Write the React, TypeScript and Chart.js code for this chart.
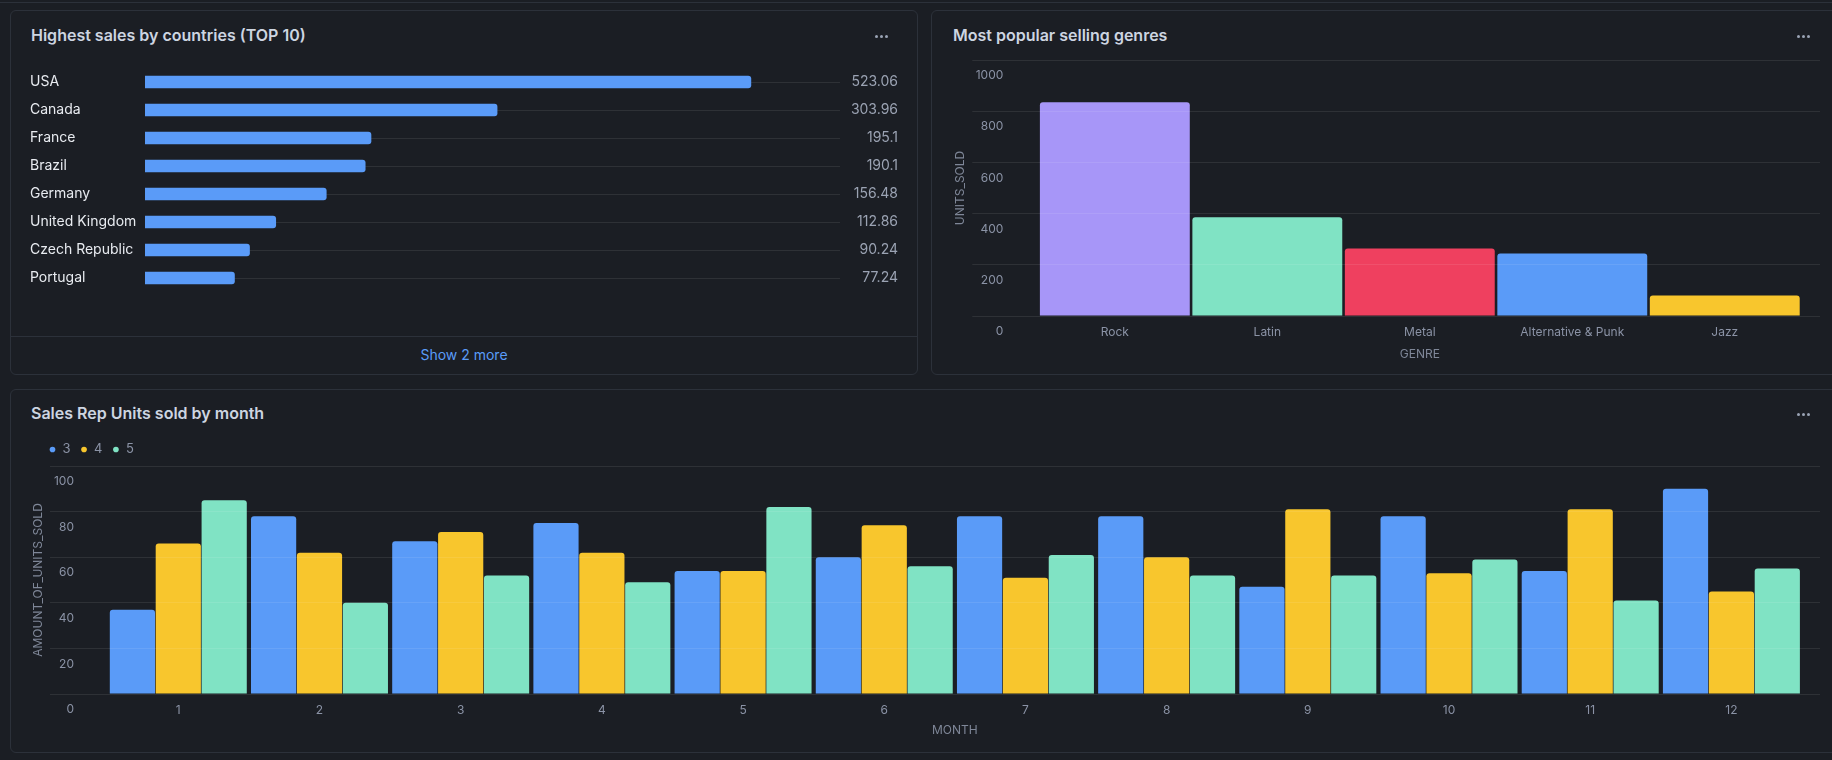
import React, { useEffect, useRef } from 'react';
import { Chart, registerables } from 'chart.js';

Chart.register(...registerables);

// ---------- data ----------
const countries = ['USA', 'Canada', 'France', 'Brazil', 'Germany', 'United Kingdom', 'Czech Republic', 'Portugal'];
const countrySales = [523.06, 303.96, 195.1, 190.1, 156.48, 112.86, 90.24, 77.24];

const genres = ['Rock', 'Latin', 'Metal', 'Alternative & Punk', 'Jazz'];
const genreUnits = [835, 386, 264, 244, 80];
const genreColors = ['#A796F8', '#80E3C4', '#EF405F', '#5A9BF8', '#F8C62D'];

const months = ['1', '2', '3', '4', '5', '6', '7', '8', '9', '10', '11', '12'];
const repNames = ['3', '4', '5'];
const rep3Units = [37, 78, 67, 75, 54, 60, 78, 78, 47, 78, 54, 90];
const rep4Units = [66, 62, 71, 62, 54, 74, 51, 60, 81, 53, 81, 45];
const rep5Units = [85, 40, 52, 49, 82, 56, 61, 52, 52, 59, 41, 55];
const repColors = ['#5A9BF8', '#F8C62D', '#80E3C4'];

// ---------- styles ----------
const FONT = 'Inter, "Noto Sans", sans-serif';
const BG = '#1b1e24';
const BORDER = '#2c313a';
const GRID = 'rgba(255,255,255,0.085)';
const TICK = '#8b93a6';
const AXTITLE = '#7f8798';
const BLUE = '#5A9BF8';

const legendShift = {
  id: 'legendShift',
  afterLayout(chart: any) {
    const l = chart.legend;
    if (l) {
      l.left += 12;
      l.right += 12;
    }
  },
};

const plainTick = (v: any) => String(v);

function Dots({ x, y }: { x: number; y: number }) {
  const d = { width: 3, height: 3, borderRadius: 2, background: '#9aa3b4', display: 'inline-block' } as React.CSSProperties;
  return (
    <div style={{ position: 'absolute', left: x, top: y - 1.5, display: 'flex', gap: 2 }}>
      <span style={d} />
      <span style={d} />
      <span style={d} />
    </div>
  );
}

export default function App() {
  const c1 = useRef<HTMLCanvasElement>(null);
  const c2 = useRef<HTMLCanvasElement>(null);
  const c3 = useRef<HTMLCanvasElement>(null);

  useEffect(() => {
    Chart.defaults.font.family = FONT;
    const charts: Chart[] = [];

    charts.push(
      new Chart(c1.current!, {
        type: 'bar',
        data: {
          labels: countries,
          datasets: [
            {
              data: countrySales,
              backgroundColor: BLUE,
              barThickness: 12,
              borderRadius: 3,
              yAxisID: 'y',
            },
          ],
        },
        options: {
          indexAxis: 'y',
          animation: false,
          responsive: false,
          layout: { padding: { top: 14, bottom: 14, left: 0, right: 0 } },
          plugins: { legend: { display: false }, tooltip: { enabled: false } },
          scales: {
            x: { display: false, min: 0, max: 600 },
            y: {
              position: 'left',
              grid: { color: GRID, offset: false, drawTicks: false },
              border: { display: false },
              ticks: { crossAlign: 'far', color: '#e8ebf0', font: { size: 14, family: FONT } },
              afterFit: (s: any) => {
                s.width = 115;
              },
            },
            yv: {
              type: 'category',
              position: 'right',
              labels: countrySales.map(String),
              offset: true,
              grid: { display: false, drawTicks: false },
              border: { display: false },
              ticks: { crossAlign: 'far', color: '#9ba3b3', font: { size: 14, family: FONT } },
              afterFit: (s: any) => {
                s.width = 58;
              },
            },
          },
        } as any,
      })
    );

    charts.push(
      new Chart(c2.current!, {
        type: 'bar',
        data: {
          labels: genres,
          datasets: [
            {
              data: genreUnits,
              backgroundColor: genreColors,
              categoryPercentage: 0.983,
              barPercentage: 1,
              borderRadius: 3,
              yAxisID: 'y',
            },
          ],
        },
        options: {
          animation: false,
          responsive: false,
          layout: { padding: { top: 12, bottom: 0, left: 0, right: 0 } },
          plugins: { legend: { display: false }, tooltip: { enabled: false } },
          scales: {
            x: {
              grid: { display: false, drawTicks: false },
              border: { display: false },
              ticks: { color: TICK, font: { size: 12, family: FONT }, padding: 9 },
              title: { display: true, text: 'GENRE', color: AXTITLE, font: { size: 12, family: FONT } },
              afterFit: (s: any) => {
                s.height = 50;
              },
            },
            y: {
              position: 'left',
              min: 0,
              max: 1000,
              ticks: {
                stepSize: 200,
                color: TICK,
                font: { size: 12, family: FONT },
                padding: -31,
                labelOffset: 15.5,
                callback: plainTick,
              },
              grid: { color: GRID, tickLength: 66.3, z: 1 },
              border: { display: false },
              title: { display: true, text: 'UNITS_SOLD', color: AXTITLE, font: { size: 12, family: FONT } },
              afterFit: (s: any) => {
                s.width = 89.6;
              },
            },
            yr: {
              position: 'right',
              min: 0,
              max: 1000,
              ticks: { display: false, stepSize: 200 },
              grid: { color: GRID, drawOnChartArea: false, tickLength: 19, z: 1 },
              border: { display: false },
              afterFit: (s: any) => {
                s.width = 19;
              },
            },
          },
        } as any,
      })
    );

    const repSeries = [rep3Units, rep4Units, rep5Units];
    charts.push(
      new Chart(c3.current!, {
        type: 'bar',
        data: {
          labels: months,
          datasets: repNames.map((name, i) => ({
            label: name,
            data: repSeries[i],
            backgroundColor: repColors[i],
            categoryPercentage: 0.975,
            barPercentage: 0.985,
            borderRadius: 3,
            yAxisID: 'y',
          })),
        },
        options: {
          animation: false,
          responsive: false,
          layout: { padding: 0 },
          plugins: {
            tooltip: { enabled: false },
            legend: {
              display: true,
              position: 'top',
              align: 'start',
              labels: {
                usePointStyle: true,
                pointStyle: 'circle',
                boxWidth: 7,
                boxHeight: 4,
                padding: 10,
                color: TICK,
                font: { size: 13, family: FONT },
              },
            },
          },
          scales: {
            x: {
              grid: { display: false, drawTicks: false },
              border: { display: false },
              ticks: { color: TICK, font: { size: 12, family: FONT }, padding: 9 },
              title: { display: true, text: 'MONTH', color: AXTITLE, font: { size: 12, family: FONT } },
              afterFit: (s: any) => {
                s.height = 48;
              },
            },
            y: {
              position: 'left',
              min: 0,
              max: 100,
              ticks: {
                stepSize: 20,
                color: TICK,
                font: { size: 12, family: FONT },
                padding: -24,
                labelOffset: 15.5,
                callback: plainTick,
              },
              grid: { color: GRID, tickLength: 57.7, z: 1 },
              border: { display: false },
              title: { display: true, text: 'AMOUNT_OF_UNITS_SOLD', color: AXTITLE, font: { size: 12, family: FONT } },
              afterFit: (s: any) => {
                s.width = 80.7;
              },
            },
            yr: {
              position: 'right',
              min: 0,
              max: 100,
              ticks: { display: false, stepSize: 20 },
              grid: { color: GRID, drawOnChartArea: false, tickLength: 18, z: 1 },
              border: { display: false },
              afterFit: (s: any) => {
                s.width = 18;
              },
            },
          },
        } as any,
        plugins: [legendShift],
      })
    );

    return () => {
      charts.forEach((c) => c.destroy());
    };
  }, []);

  const panel = (left: number, top: number, width: number, height: number): React.CSSProperties => ({
    position: 'absolute',
    left,
    top,
    width,
    height,
    boxSizing: 'border-box',
    border: `1px solid ${BORDER}`,
    borderRadius: 6,
  });
  const title: React.CSSProperties = {
    position: 'absolute',
    fontSize: 16,
    fontWeight: 600,
    lineHeight: '20px',
    color: '#cdd5e1',
    whiteSpace: 'nowrap',
  };

  return (
    <div
      style={{
        position: 'fixed',
        left: 0,
        top: 0,
        width: 1832,
        height: 760,
        background: BG,
        overflow: 'hidden',
        fontFamily: FONT,
      }}
    >
      <div style={{ position: 'absolute', left: 0, top: 2, width: 1832, height: 1, background: BORDER }} />
      <div style={panel(10, 10, 908, 365)} />
      <div style={panel(931, 10, 920, 365)} />
      <div style={panel(10, 389, 1840, 364)} />

      <div style={{ ...title, left: 31, top: 25 }}>Highest sales by countries (TOP 10)</div>
      <div style={{ ...title, left: 953, top: 25 }}>Most popular selling genres</div>
      <div style={{ ...title, left: 31, top: 403 }}>Sales Rep Units sold by month</div>

      <Dots x={875} y={36} />
      <Dots x={1797} y={36} />
      <Dots x={1797} y={414} />

      <div style={{ position: 'absolute', left: 10, top: 336, width: 908, height: 1, background: BORDER }} />
      <div
        style={{
          position: 'absolute',
          left: 10,
          width: 908,
          top: 345,
          height: 20,
          lineHeight: '20px',
          textAlign: 'center',
          fontSize: 14,
          color: '#5a9cf8',
        }}
      >
        Show 2 more
      </div>

      <canvas ref={c1} width={868} height={252} style={{ position: 'absolute', left: 30, top: 54 }} />
      <canvas ref={c2} width={871} height={318} style={{ position: 'absolute', left: 949, top: 48 }} />
      <canvas ref={c3} width={1793} height={309} style={{ position: 'absolute', left: 27, top: 433 }} />
    </div>
  );
}
